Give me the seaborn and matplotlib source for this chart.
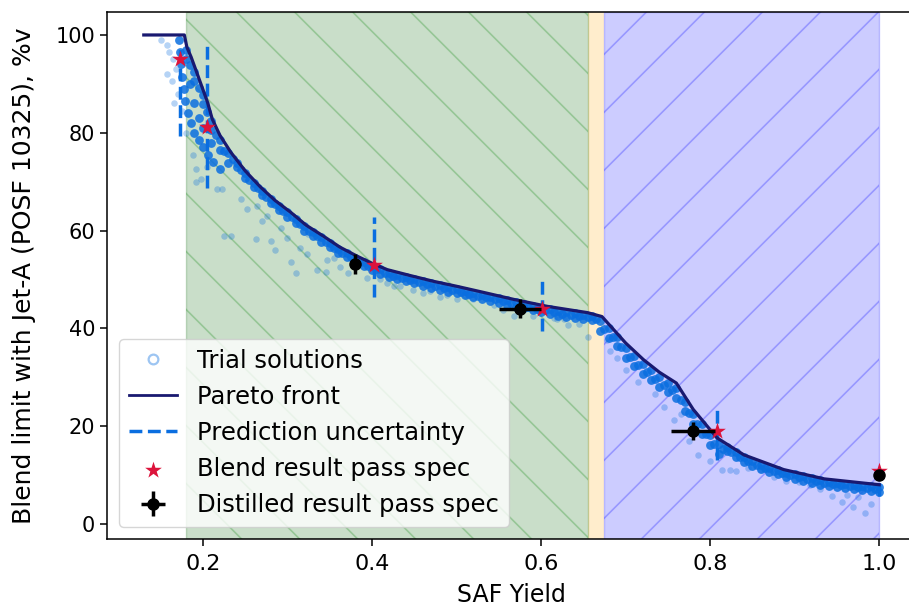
import numpy as np
import matplotlib
matplotlib.use('Agg')
import matplotlib.pyplot as plt
from matplotlib.lines import Line2D
from matplotlib.transforms import IdentityTransform
import seaborn as sns

# Pareto front
pareto_x = [0.130, 0.178, 0.181, 0.186, 0.194, 0.2055, 0.211, 0.220, 0.233, 0.250,
            0.268, 0.285, 0.304, 0.322, 0.343, 0.362, 0.383, 0.400, 0.418, 0.445,
            0.473, 0.500, 0.528, 0.568, 0.607, 0.655, 0.672, 0.700, 0.721, 0.740,
            0.760, 0.780, 0.808, 0.840, 0.887, 0.935, 1.000]
pareto_y = [100.0, 100.0, 97.5, 95.5, 91.7, 86.2, 82.8, 79.5, 76.0, 72.2,
            68.9, 66.2, 63.7, 61.1, 58.8, 56.6, 54.7, 53.3, 52.0, 50.8,
            49.6, 48.6, 47.5, 45.9, 44.5, 43.2, 42.4, 37.0, 33.6, 31.0,
            28.8, 23.4, 17.6, 14.1, 11.1, 9.2, 8.0]

# trial solutions: dense band just under the front
band_x = [0.18, 0.19, 0.20, 0.21, 0.22, 0.23, 0.24, 0.25, 0.26, 0.27,
          0.28, 0.29, 0.30, 0.31, 0.32, 0.33, 0.34, 0.35, 0.36, 0.37,
          0.38, 0.39, 0.40, 0.41, 0.42, 0.43, 0.44, 0.45, 0.46, 0.47,
          0.48, 0.49, 0.50, 0.51, 0.52, 0.53, 0.54, 0.55, 0.56, 0.57,
          0.58, 0.59, 0.60, 0.61, 0.62, 0.63, 0.64, 0.65, 0.66, 0.67,
          0.68, 0.69, 0.70, 0.71, 0.72, 0.73, 0.74, 0.75, 0.76, 0.77,
          0.78, 0.79, 0.80, 0.81, 0.82, 0.83, 0.84, 0.85, 0.86, 0.87,
          0.88, 0.89, 0.90, 0.91, 0.92, 0.93, 0.94, 0.95, 0.96, 0.97,
          0.98, 0.99, 1.00]
band_y1 = [97.0, 92.5, 87.8, 82.5, 78.5, 75.8, 73.9, 71.7, 69.8, 68.1,
           66.5, 65.0, 63.7, 62.4, 60.9, 59.7, 58.6, 57.5, 56.3, 55.4,
           54.4, 53.6, 52.8, 52.1, 51.4, 50.9, 50.5, 50.1, 49.6, 49.2,
           48.8, 48.4, 48.1, 47.7, 47.3, 46.9, 46.5, 46.1, 45.7, 45.3,
           45.0, 44.6, 44.2, 43.9, 43.5, 43.3, 43.1, 42.8, 42.5, 41.5,
           40.0, 38.3, 36.0, 34.3, 32.7, 31.4, 30.0, 28.9, 27.8, 25.0,
           22.4, 20.4, 18.2, 16.3, 15.7, 14.6, 13.6, 12.8, 12.1, 11.5,
           11.0, 10.5, 10.1, 9.7, 9.3, 8.9, 8.6, 8.4, 8.2, 8.0,
           7.8, 7.7, 7.5]
band_y2 = [95.0, 90.5, 85.8, 80.5, 76.5, 73.8, 73.0, 70.8, 68.9, 67.2,
           65.6, 64.1, 62.8, 61.5, 60.0, 58.8, 57.7, 56.6, 55.4, 54.5,
           53.5, 52.7, 51.9, 51.2, 50.5, 50.0, 49.6, 49.2, 48.7, 48.3,
           47.9, 47.5, 47.2, 46.8, 46.4, 46.0, 45.6, 45.2, 44.8, 44.4,
           44.1, 43.7, 43.3, 43.0, 42.6, 42.4, 42.2, 41.9, 41.6, 39.5,
           38.0, 36.3, 34.0, 32.3, 30.7, 29.4, 28.0, 26.9, 25.8, 23.0,
           20.4, 18.4, 16.2, 14.3, 14.8, 13.7, 12.7, 11.9, 11.2, 10.6,
           10.1, 9.6, 9.2, 8.8, 8.4, 8.0, 7.7, 7.5, 7.3, 7.1,
           6.9, 6.8, 6.6]
band_xm = [0.185, 0.195, 0.205, 0.215, 0.225, 0.235, 0.245, 0.255, 0.265, 0.275,
           0.285, 0.295, 0.305, 0.315, 0.325, 0.335, 0.345, 0.355, 0.365, 0.375,
           0.385, 0.395, 0.405, 0.415, 0.425, 0.435, 0.445, 0.455, 0.465, 0.475,
           0.485, 0.495, 0.505, 0.515, 0.525, 0.535, 0.545, 0.555, 0.565, 0.575,
           0.585, 0.595, 0.605, 0.615, 0.625, 0.635, 0.645, 0.655, 0.665, 0.675,
           0.685, 0.695, 0.705, 0.715, 0.725, 0.735, 0.745, 0.755, 0.765, 0.775,
           0.785, 0.795, 0.805, 0.815, 0.825, 0.835, 0.845, 0.855, 0.865, 0.875,
           0.885, 0.895, 0.905, 0.915, 0.925, 0.935, 0.945, 0.955, 0.965, 0.975,
           0.985, 0.995]
band_ym = [93.8, 89.2, 84.2, 79.5, 76.2, 74.7, 72.4, 70.4, 68.6, 66.9,
           65.4, 64.0, 62.7, 61.3, 59.9, 58.8, 57.7, 56.5, 55.5, 54.5,
           53.6, 52.8, 52.1, 51.4, 50.8, 50.3, 49.9, 49.5, 49.0, 48.6,
           48.2, 47.9, 47.5, 47.1, 46.7, 46.3, 45.9, 45.5, 45.1, 44.8,
           44.4, 44.0, 43.7, 43.3, 43.0, 42.8, 42.6, 42.3, 41.8, 39.8,
           38.2, 36.2, 34.2, 32.5, 31.1, 29.7, 28.5, 27.4, 25.4, 22.7,
           20.4, 18.3, 16.3, 15.3, 14.7, 13.7, 12.8, 12.0, 11.4, 10.8,
           10.3, 9.9, 9.5, 9.1, 8.7, 8.3, 8.1, 7.9, 7.7, 7.5,
           7.3, 7.2]
# left edge of the band where the front drops steeply
edge_x = [0.172, 0.173, 0.174, 0.175, 0.177, 0.179, 0.182, 0.186, 0.190, 0.195,
          0.200, 0.206, 0.212, 0.220, 0.185, 0.190, 0.195, 0.200, 0.210]
edge_y = [99.0, 96.5, 94.0, 91.5, 89.0, 86.5, 84.0, 82.0, 80.0, 78.5,
          77.0, 75.5, 74.0, 72.5, 90.0, 86.0, 83.0, 81.0, 78.0]

# trial solutions: scattered ones
sparse_x = [0.150, 0.158, 0.160, 0.165, 0.157, 0.163, 0.168, 0.170, 0.166, 0.175,
            0.180, 0.188, 0.192, 0.192, 0.198, 0.205, 0.217, 0.223, 0.225, 0.233,
            0.245, 0.252, 0.264, 0.270, 0.276, 0.263, 0.280, 0.285, 0.292, 0.300,
            0.304, 0.310, 0.315, 0.323, 0.324, 0.335, 0.345, 0.347, 0.355, 0.362,
            0.372, 0.394, 0.410, 0.418, 0.426, 0.433, 0.449, 0.460, 0.469, 0.480,
            0.489, 0.500, 0.513, 0.520, 0.544, 0.555, 0.568, 0.590, 0.615, 0.619,
            0.627, 0.632, 0.645, 0.656, 0.678, 0.682, 0.690, 0.700, 0.715, 0.735,
            0.745, 0.757, 0.765, 0.775, 0.786, 0.800, 0.814, 0.823, 0.830, 0.845,
            0.859, 0.875, 0.890, 0.905, 0.918, 0.930, 0.944, 0.956, 0.962, 0.969,
            0.975, 0.983, 0.990]
sparse_y = [99.0, 98.0, 96.5, 95.0, 92.0, 90.5, 93.0, 88.0, 86.0, 84.5,
            80.0, 75.5, 72.5, 70.0, 70.5, 73.0, 68.4, 68.5, 58.8, 58.8,
            66.4, 64.5, 65.0, 62.0, 63.0, 58.2, 57.9, 56.0, 60.5, 58.5,
            53.5, 51.4, 56.5, 55.1, 59.2, 52.0, 51.6, 54.0, 54.4, 52.6,
            51.4, 50.3, 50.0, 49.3, 48.6, 48.6, 47.8, 47.3, 47.7, 46.5,
            46.9, 46.0, 46.6, 45.9, 44.7, 43.8, 42.5, 42.6, 42.2, 41.8,
            41.8, 40.7, 40.8, 38.3, 37.7, 35.3, 34.0, 31.5, 29.0, 26.5,
            24.0, 21.3, 22.5, 17.0, 14.1, 12.8, 11.1, 11.0, 10.8, 11.4,
            11.1, 9.5, 8.8, 8.5, 8.0, 7.2, 5.6, 4.5, 6.0, 3.5,
            5.5, 2.2, 4.0]

# blends that passed spec, with prediction uncertainty
blend_x = [0.173, 0.205, 0.402, 0.601, 0.808, 1.000]
blend_y = [95.1, 81.1, 52.9, 44.0, 19.0, 10.8]
unc_lo = [79.3, 68.8, 46.3, 39.4, 13.1, 5.6]
unc_hi = [98.0, 98.8, 62.7, 50.2, 23.4, 10.4]

# distilled results
dist_x = [0.380, 0.575, 0.780, 1.000]
dist_y = [53.1, 44.0, 19.0, 10.0]
dist_xerr = [0.0, 0.025, 0.026, 0.0]
dist_yerr = [2.0, 1.9, 1.9, 0.5]

# shaded regions along SAF yield
green_span = (0.180, 0.655)
orange_span = (0.655, 0.674)
blue_span = (0.674, 1.000)

BLUE = '#0a6ee0'
NAVY = 'midnightblue'

fig = plt.figure(figsize=(9.09, 6.09), dpi=100)
ax = fig.add_axes([107 / 909, 70 / 609, 809 / 909, 527 / 609])

g_patch = ax.axvspan(*green_span, color='darkgreen', alpha=0.21, lw=1, zorder=0)
ax.axvspan(*orange_span, color='orange', alpha=0.2, lw=0, zorder=0)
b_patch = ax.axvspan(*blue_span, color='blue', alpha=0.2, lw=1, zorder=0)


def add_hatch(ax, patch, slope, phase, color):
    # sparse diagonal hatch drawn in pixel space and clipped to the span
    for c in np.arange(phase - 1740, 1740, 58):
        ln = Line2D([0, 1000], [c, c + slope * 1000], transform=IdentityTransform(),
                    color=color, alpha=0.25, lw=1.2, zorder=0.5)
        ax.add_artist(ln)
        ln.set_clip_path(patch)


add_hatch(ax, g_patch, -1, 21.6, 'green')
add_hatch(ax, b_patch, 1, 8.6, 'blue')

# prediction uncertainty
unc = ax.vlines(blend_x, unc_lo, unc_hi, colors=BLUE, linestyles='--', lw=2.5, zorder=2)

# trial solutions
sns.scatterplot(x=sparse_x, y=sparse_y, color=BLUE, alpha=0.3, s=22, linewidth=0,
                ax=ax, zorder=3)
sns.scatterplot(x=band_x + band_x + band_xm + edge_x,
                y=band_y1 + band_y2 + band_ym + edge_y,
                color=BLUE, alpha=0.85, s=40, linewidth=0, ax=ax, zorder=3)

# Pareto front
sns.lineplot(x=pareto_x, y=pareto_y, estimator=None, sort=False, color=NAVY, lw=2.3,
             ax=ax, zorder=4)

# blend results
sns.scatterplot(x=blend_x, y=blend_y, marker='*', s=160, color='crimson', linewidth=0,
                ax=ax, zorder=5)
stars = ax.collections[-1]

# distilled results
dist = ax.errorbar(dist_x, dist_y, xerr=dist_xerr, yerr=dist_yerr, fmt='o', color='black',
                   ms=8, elinewidth=2.5, capsize=0, zorder=6)

ax.set_xlim(0.0865, 1.0435)
ax.set_ylim(-3.1, 104.7)
ax.set_xticks([0.2, 0.4, 0.6, 0.8, 1.0])
ax.set_yticks([0, 20, 40, 60, 80, 100])
ax.tick_params(axis='x', labelsize=16, length=5, width=1.1, pad=6)
ax.tick_params(axis='y', labelsize=15, length=5, width=1.1)
for sp in ax.spines.values():
    sp.set_linewidth(1.1)
ax.set_xlabel('SAF Yield', fontsize=17, labelpad=6)
ax.set_ylabel('Blend limit with Jet-A (POSF 10325), %v', fontsize=18, labelpad=14)

trial_h = Line2D([], [], ls='none', marker='o', ms=7, mfc='white', mec=BLUE, mew=1.6, alpha=0.4)
pareto_h = Line2D([], [], color=NAVY, lw=2)
handles = [trial_h, pareto_h, unc, stars, dist]
labels = ['Trial solutions', 'Pareto front', 'Prediction uncertainty',
          'Blend result pass spec', 'Distilled result pass spec']
ax.legend(handles, labels, loc='lower left', fontsize=17.5, handlelength=2.0, frameon=True)

fig.savefig('out.png', dpi=100)
